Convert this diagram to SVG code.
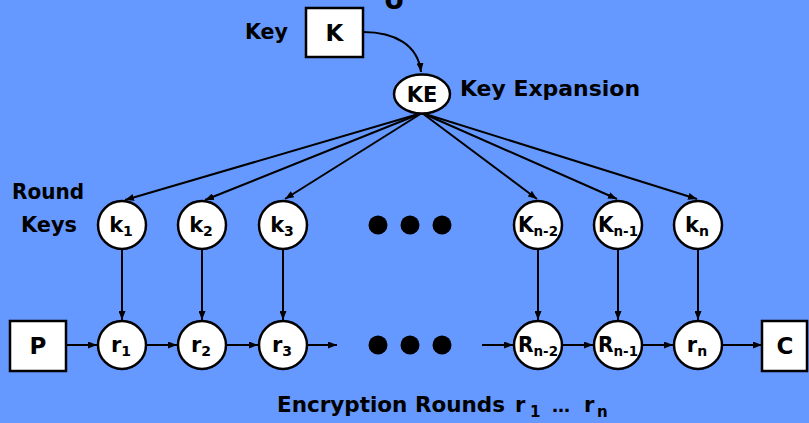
<svg xmlns="http://www.w3.org/2000/svg" width="809" height="423" viewBox="0 0 809 423">
  <style>
    .lbl { font-family: "DejaVu Sans", "Liberation Sans", sans-serif; font-weight: bold; fill: #000; }
    .node { fill: #fff; stroke: #000; stroke-width: 2.5; }
    .edge { fill: none; stroke: #000; stroke-width: 2; marker-end: url(#arrow); }
    .dot { fill: #000; }
    .sub { font-size: 14px; }
  </style>
  <defs>
    <marker id="arrow" markerUnits="userSpaceOnUse" markerWidth="9" markerHeight="7" refX="9" refY="3.5" orient="auto">
      <path d="M0,0 L9,3.5 L0,7 z" fill="#000"/>
    </marker>
  </defs>

  <rect width="809" height="423" fill="#6699ff"/>

  <!-- tail of a heading running off the top edge -->
  <text class="lbl" x="394" y="9" font-size="28" text-anchor="middle">o</text>

  <!-- labels -->
  <text class="lbl" x="245" y="39" font-size="21" textLength="43" lengthAdjust="spacingAndGlyphs">Key</text>
  <text class="lbl" x="460" y="96" font-size="21" textLength="180" lengthAdjust="spacingAndGlyphs">Key Expansion</text>
  <text class="lbl" x="12" y="199" font-size="21" textLength="72" lengthAdjust="spacingAndGlyphs">Round</text>
  <text class="lbl" x="21" y="232" font-size="21" textLength="56" lengthAdjust="spacingAndGlyphs">Keys</text>
  <g id="caption" class="lbl">
    <text class="lbl" x="277" y="412" font-size="21" textLength="228" lengthAdjust="spacingAndGlyphs">Encryption Rounds</text>
    <text class="lbl" x="515" y="412" font-size="21">r</text>
    <text class="lbl" x="530" y="417" font-size="15">1</text>
    <text class="lbl" x="552" y="412" font-size="18">…</text>
    <text class="lbl" x="584" y="412" font-size="21">r</text>
    <text class="lbl" x="597" y="417" font-size="15">n</text>
  </g>

  <!-- connectors -->
  <g id="connectors">
    <path class="edge" d="M363,32 C395,32 418,45 421,72"/>
    <line class="edge" x1="422" y1="113" x2="125" y2="200"/>
    <line class="edge" x1="422" y1="113" x2="205" y2="200"/>
    <line class="edge" x1="422" y1="113" x2="285" y2="199"/>
    <line class="edge" x1="422" y1="113" x2="537" y2="199"/>
    <line class="edge" x1="422" y1="113" x2="617" y2="199"/>
    <line class="edge" x1="422" y1="113" x2="697" y2="199"/>

    <line class="edge" x1="122" y1="249" x2="122" y2="320"/>
    <line class="edge" x1="202" y1="249" x2="202" y2="320"/>
    <line class="edge" x1="283" y1="249" x2="283" y2="320"/>
    <line class="edge" x1="538" y1="249" x2="538" y2="320"/>
    <line class="edge" x1="618" y1="249" x2="618" y2="320"/>
    <line class="edge" x1="698" y1="249" x2="698" y2="320"/>

    <line class="edge" x1="66" y1="345" x2="97" y2="345"/>
    <line class="edge" x1="147" y1="345" x2="177" y2="345"/>
    <line class="edge" x1="227" y1="345" x2="258" y2="345"/>
    <line class="edge" x1="308" y1="345" x2="337" y2="345"/>
    <line class="edge" x1="482" y1="345" x2="513" y2="345"/>
    <line class="edge" x1="563" y1="345" x2="593" y2="345"/>
    <line class="edge" x1="643" y1="345" x2="673" y2="345"/>
    <line class="edge" x1="723" y1="345" x2="762" y2="345"/>
  </g>

  <!-- key input and expansion -->
  <g id="K">
    <rect class="node" x="306" y="8" width="57" height="49"/>
    <text class="lbl" x="334.5" y="41" font-size="23" text-anchor="middle">K</text>
  </g>
  <g id="KE">
    <ellipse class="node" cx="422" cy="94" rx="28" ry="19.5"/>
    <text class="lbl" x="422" y="102" font-size="21" text-anchor="middle">KE</text>
  </g>

  <!-- round keys -->
  <g id="k1"><circle class="node" cx="122" cy="225" r="24"/><text class="lbl" x="121" y="232" font-size="21" text-anchor="middle">k<tspan class="sub" dy="4">1</tspan></text></g>
  <g id="k2"><circle class="node" cx="202" cy="225" r="24"/><text class="lbl" x="201" y="232" font-size="21" text-anchor="middle">k<tspan class="sub" dy="4">2</tspan></text></g>
  <g id="k3"><circle class="node" cx="283" cy="225" r="24"/><text class="lbl" x="282" y="232" font-size="21" text-anchor="middle">k<tspan class="sub" dy="4">3</tspan></text></g>
  <g id="kdots">
    <circle class="dot" cx="378" cy="225" r="9.5"/>
    <circle class="dot" cx="410" cy="225" r="9.5"/>
    <circle class="dot" cx="442" cy="225" r="9.5"/>
  </g>
  <g id="Kn-2"><circle class="node" cx="538" cy="225" r="24"/><text class="lbl" x="538" y="232" font-size="21" text-anchor="middle" textLength="40" lengthAdjust="spacingAndGlyphs">K<tspan class="sub" dy="4">n-2</tspan></text></g>
  <g id="Kn-1"><circle class="node" cx="618" cy="225" r="24"/><text class="lbl" x="618" y="232" font-size="21" text-anchor="middle" textLength="40" lengthAdjust="spacingAndGlyphs">K<tspan class="sub" dy="4">n-1</tspan></text></g>
  <g id="kn"><circle class="node" cx="698" cy="225" r="24"/><text class="lbl" x="697" y="232" font-size="21" text-anchor="middle">k<tspan class="sub" dy="4">n</tspan></text></g>

  <!-- rounds -->
  <g id="P">
    <rect class="node" x="10" y="321" width="56" height="50"/>
    <text class="lbl" x="38" y="354" font-size="23" text-anchor="middle">P</text>
  </g>
  <g id="r1"><circle class="node" cx="122" cy="345" r="24"/><text class="lbl" x="121" y="352" font-size="21" text-anchor="middle">r<tspan class="sub" dy="4">1</tspan></text></g>
  <g id="r2"><circle class="node" cx="202" cy="345" r="24"/><text class="lbl" x="201" y="352" font-size="21" text-anchor="middle">r<tspan class="sub" dy="4">2</tspan></text></g>
  <g id="r3"><circle class="node" cx="283" cy="345" r="24"/><text class="lbl" x="282" y="352" font-size="21" text-anchor="middle">r<tspan class="sub" dy="4">3</tspan></text></g>
  <g id="rdots">
    <circle class="dot" cx="378" cy="345" r="9.5"/>
    <circle class="dot" cx="410" cy="345" r="9.5"/>
    <circle class="dot" cx="442" cy="345" r="9.5"/>
  </g>
  <g id="Rn-2"><circle class="node" cx="538" cy="345" r="24"/><text class="lbl" x="538" y="352" font-size="21" text-anchor="middle" textLength="40" lengthAdjust="spacingAndGlyphs">R<tspan class="sub" dy="4">n-2</tspan></text></g>
  <g id="Rn-1"><circle class="node" cx="618" cy="345" r="24"/><text class="lbl" x="618" y="352" font-size="21" text-anchor="middle" textLength="40" lengthAdjust="spacingAndGlyphs">R<tspan class="sub" dy="4">n-1</tspan></text></g>
  <g id="rn"><circle class="node" cx="698" cy="345" r="24"/><text class="lbl" x="697" y="352" font-size="21" text-anchor="middle">r<tspan class="sub" dy="4">n</tspan></text></g>
  <g id="C">
    <rect class="node" x="762" y="321" width="45" height="50"/>
    <text class="lbl" x="785" y="354" font-size="23" text-anchor="middle">C</text>
  </g>
</svg>
